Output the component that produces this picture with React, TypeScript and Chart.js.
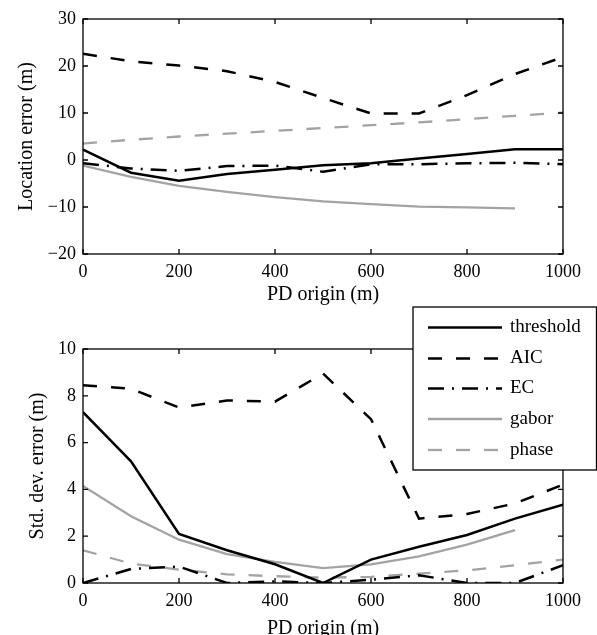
import React, { useEffect, useRef } from "react";
import { Chart, registerables } from "chart.js";

Chart.register(...registerables);

// ---------- data ----------
const xOrigin = [0, 100, 200, 300, 400, 500, 600, 700, 800, 900, 1000];

const seriesNames = ["threshold", "AIC", "EC", "gabor", "phase"];

// Location error (m)
const locThreshold = [2.2, -2.7, -4.4, -3.0, -2.1, -1.1, -0.7, 0.3, 1.3, 2.3, 2.3];
const locAIC = [22.6, 21.0, 20.1, 18.9, 16.6, 13.2, 9.9, 9.9, 13.8, 18.3, 21.9];
const locEC = [-0.7, -1.8, -2.3, -1.3, -1.2, -2.5, -0.9, -0.9, -0.7, -0.6, -0.9];
const locGabor = [-1.2, -3.6, -5.5, -6.8, -7.9, -8.8, -9.4, -9.9, -10.1, -10.3];
const locPhase = [3.5, 4.3, 5.0, 5.6, 6.2, 6.8, 7.4, 8.0, 8.7, 9.4, 10.1];

// Std. dev. error (m)
const sdThreshold = [7.3, 5.2, 2.1, 1.4, 0.8, 0.0, 1.0, 1.55, 2.05, 2.75, 3.35];
const sdAIC = [8.45, 8.3, 7.5, 7.8, 7.75, 8.95, 7.0, 2.75, 2.95, 3.4, 4.2];
const sdEC = [0.0, 0.6, 0.7, 0.0, 0.07, 0.0, 0.14, 0.33, 0.0, 0.0, 0.76];
const sdGabor = [4.15, 2.85, 1.85, 1.23, 0.9, 0.64, 0.8, 1.14, 1.64, 2.26];
const sdPhase = [1.4, 0.83, 0.57, 0.37, 0.29, 0.23, 0.26, 0.4, 0.54, 0.76, 1.0];

const xTicks = [0, 200, 400, 600, 800, 1000];
const locTicks = [-20, -10, 0, 10, 20, 30];
const sdTicks = [0, 2, 4, 6, 8, 10];

// ---------- styles ----------
const FONT = "'Liberation Serif', 'Times New Roman', serif";
const GREY = "#a3a3a3";
const styles = [
  { color: "#000", dash: [] as number[], width: 2.5 },
  { color: "#000", dash: [14, 14], width: 2.5 },
  { color: "#000", dash: [16, 8, 2, 8], width: 2.5 },
  { color: GREY, dash: [] as number[], width: 2.3 },
  { color: GREY, dash: [14, 14], width: 2.3 },
];

const toPts = (arr: number[]) => arr.map((y, i) => ({ x: xOrigin[i], y }));

function makeDatasets(series: number[][]) {
  return series.map((s, i) => ({
    label: seriesNames[i],
    data: toPts(s),
    borderColor: styles[i].color,
    backgroundColor: styles[i].color,
    borderDash: styles[i].dash,
    borderWidth: styles[i].width,
    pointRadius: 0,
    tension: 0,
    fill: false,
  }));
}

const boxPlugin = {
  id: "matlabBox",
  afterDatasetsDraw(chart: any) {
    const { ctx, chartArea } = chart;
    const { left, right, top, bottom } = chartArea;
    const xs = chart.scales.x;
    const ys = chart.scales.y;
    const tl = 5;
    ctx.save();
    ctx.strokeStyle = "#000";
    ctx.lineWidth = 1.3;
    ctx.setLineDash([]);
    ctx.strokeRect(left, top, right - left, bottom - top);
    ctx.beginPath();
    xs.ticks.forEach((t: any) => {
      const px = xs.getPixelForValue(t.value);
      ctx.moveTo(px, bottom);
      ctx.lineTo(px, bottom - tl);
      ctx.moveTo(px, top);
      ctx.lineTo(px, top + tl);
    });
    ys.ticks.forEach((t: any) => {
      const py = ys.getPixelForValue(t.value);
      ctx.moveTo(left, py);
      ctx.lineTo(left + tl, py);
      ctx.moveTo(right, py);
      ctx.lineTo(right - tl, py);
    });
    ctx.stroke();
    ctx.restore();
  },
};

const legendPlugin = {
  id: "boxLegend",
  afterDraw(chart: any) {
    const opts = chart.options.plugins.boxLegend;
    if (!opts || !opts.show) return;
    const { ctx } = chart;
    const bx = 413, by = 7, bw = 183.5, bh = 163;
    ctx.save();
    ctx.fillStyle = "#fff";
    ctx.fillRect(bx, by, bw, bh);
    ctx.strokeStyle = "#000";
    ctx.lineWidth = 1.3;
    ctx.setLineDash([]);
    ctx.strokeRect(bx, by, bw, bh);
    const rowY = [27.5, 58.5, 88.5, 119, 150];
    chart.data.datasets.forEach((ds: any, i: number) => {
      const y = rowY[i];
      ctx.beginPath();
      ctx.strokeStyle = ds.borderColor;
      ctx.lineWidth = ds.borderWidth;
      ctx.setLineDash(ds.borderDash || []);
      ctx.moveTo(428, y);
      ctx.lineTo(502, y);
      ctx.stroke();
      ctx.setLineDash([]);
      ctx.fillStyle = "#000";
      ctx.font = `19px ${FONT}`;
      ctx.textBaseline = "middle";
      ctx.textAlign = "left";
      ctx.fillText(ds.label, 510, y);
    });
    ctx.restore();
  },
};

function makeConfig(opts: {
  series: number[][];
  yMin: number;
  yMax: number;
  yTicks: number[];
  yTitle: string;
  yTitlePad: number;
  padTop: number;
  xHeight: number;
  xTitlePad: number;
  legend: boolean;
}): any {
  const tickFont = { family: FONT, size: 18 };
  const titleFont = { family: FONT, size: 20, lineHeight: 1 };
  return {
    type: "line",
    data: { datasets: makeDatasets(opts.series) },
    plugins: [boxPlugin, legendPlugin],
    options: {
      animation: false,
      responsive: false,
      maintainAspectRatio: false,
      events: [],
      layout: { padding: { left: 0, right: 34, top: opts.padTop, bottom: 0 } },
      plugins: {
        legend: { display: false },
        tooltip: { enabled: false },
        boxLegend: { show: opts.legend },
      },
      scales: {
        x: {
          type: "linear",
          min: 0,
          max: 1000,
          afterBuildTicks: (s: any) => {
            s.ticks = xTicks.map((v) => ({ value: v }));
          },
          grid: { display: false, drawTicks: false },
          border: { display: false },
          ticks: {
            color: "#000",
            font: tickFont,
            padding: 7,
            maxRotation: 0,
            autoSkip: false,
            callback: (v: number) => String(v),
          },
          title: {
            display: true,
            text: "PD origin (m)",
            color: "#000",
            font: titleFont,
            padding: { top: 0, bottom: opts.xTitlePad },
          },
          afterFit: (s: any) => {
            s.height = opts.xHeight;
          },
        },
        y: {
          type: "linear",
          min: opts.yMin,
          max: opts.yMax,
          afterBuildTicks: (s: any) => {
            s.ticks = opts.yTicks.map((v) => ({ value: v }));
          },
          grid: { display: false, drawTicks: false },
          border: { display: false },
          ticks: {
            color: "#000",
            font: tickFont,
            padding: 7,
            autoSkip: false,
            callback: (v: number) => String(v).replace("-", "\u2212"),
          },
          title: {
            display: true,
            text: opts.yTitle,
            color: "#000",
            font: titleFont,
            padding: { top: opts.yTitlePad, bottom: 0 },
          },
          afterFit: (s: any) => {
            s.width = 83;
          },
        },
      },
    },
  };
}

function ChartCanvas({ config, width, height, top }: { config: any; width: number; height: number; top: number }) {
  const ref = useRef<HTMLCanvasElement | null>(null);
  useEffect(() => {
    if (!ref.current) return;
    const chart = new Chart(ref.current, config);
    return () => chart.destroy();
  }, [config]);
  return (
    <canvas
      ref={ref}
      width={width}
      height={height}
      style={{ position: "absolute", left: 0, top, width, height, display: "block" }}
    />
  );
}

const topConfig = makeConfig({
  series: [locThreshold, locAIC, locEC, locGabor, locPhase],
  yMin: -20,
  yMax: 30,
  yTicks: locTicks,
  yTitle: "Location error (m)",
  yTitlePad: 17,
  padTop: 19,
  xHeight: 56,
  xTitlePad: 5,
  legend: false,
});

const bottomConfig = makeConfig({
  series: [sdThreshold, sdAIC, sdEC, sdGabor, sdPhase],
  yMin: 0,
  yMax: 10,
  yTicks: sdTicks,
  yTitle: "Std. dev. error (m)",
  yTitlePad: 28,
  padTop: 49,
  xHeight: 52,
  xTitlePad: -4,
  legend: true,
});

export default function App() {
  return (
    <div style={{ position: "absolute", left: 0, top: 0, width: 597, height: 635, background: "#fff", overflow: "hidden" }}>
      <ChartCanvas config={topConfig} width={597} height={310} top={0} />
      <ChartCanvas config={bottomConfig} width={597} height={335} top={300} />
    </div>
  );
}
